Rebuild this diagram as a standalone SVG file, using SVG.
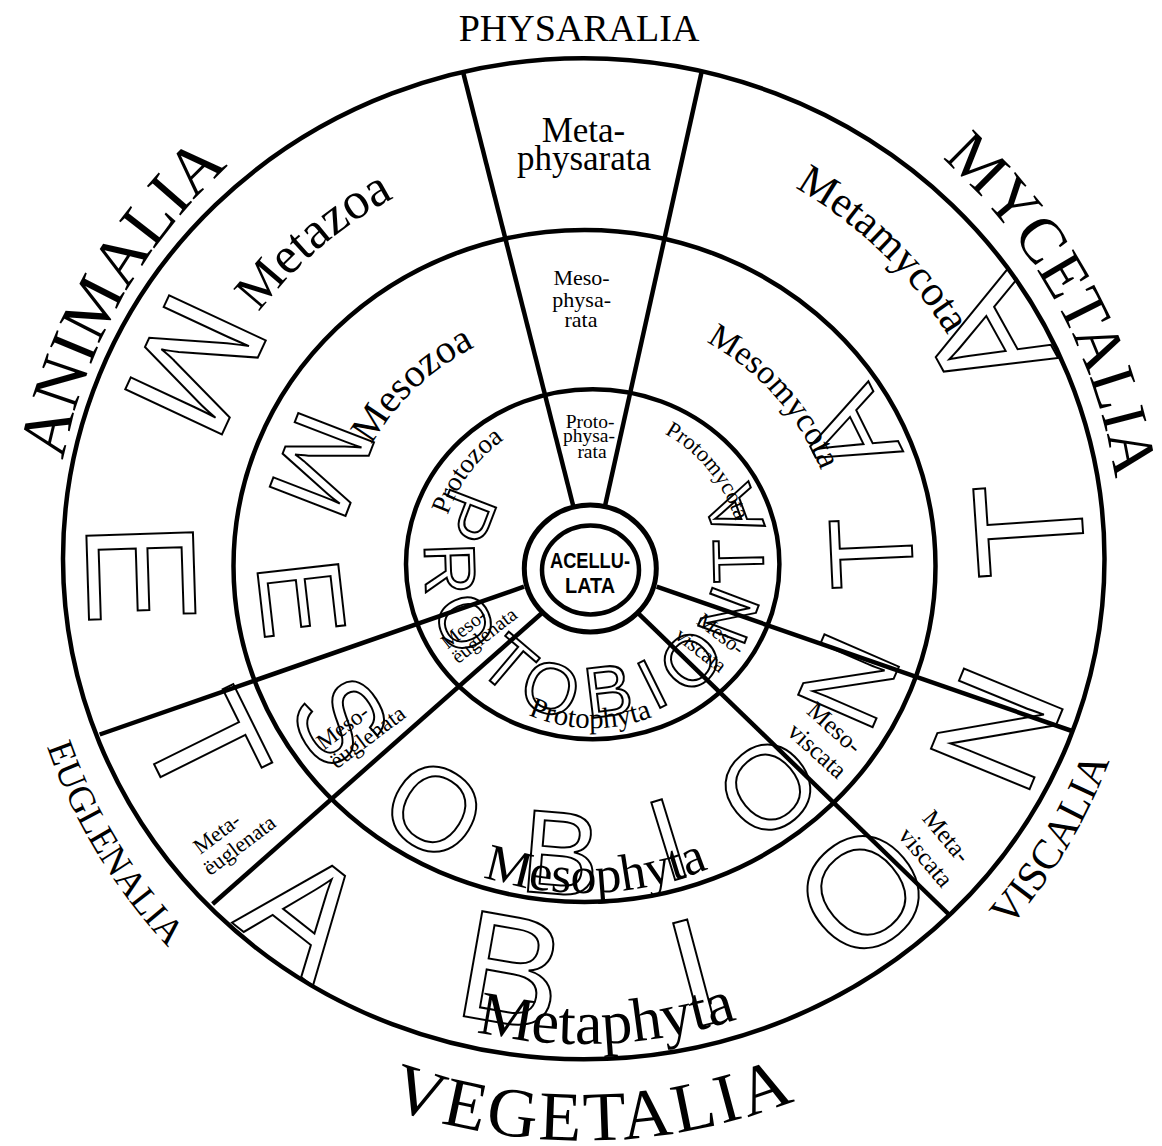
<svg xmlns="http://www.w3.org/2000/svg" width="1162" height="1146" viewBox="0 0 1162 1146">
<style>
.ring{fill:none;stroke:#000;stroke-width:4.5}
.div{stroke:#000;stroke-width:4.5;fill:none}
.serif{font-family:"Liberation Serif","Times New Roman",serif;fill:#000}
.mid{text-anchor:middle}
.ol{font-family:"Liberation Sans",Arial,Helvetica,sans-serif;fill:none;stroke:#000;stroke-width:2;text-anchor:middle}
.o1{font-size:155px}
.o2{font-size:118px}
.o3{font-size:72px}
.ctr{font-family:"Liberation Sans",Arial,Helvetica,sans-serif;font-weight:bold;font-size:21.5px;fill:#000;text-anchor:middle}
</style>
<defs>
<path id="pAnimalia" d="M 54.04 565.48 A 530 530 0 0 1 313.43 103.25"/>
<path id="pMycetalia" d="M 865.4 101.6 A 537 537 0 0 1 1120.8 574.0"/>
<path id="pViscalia" d="M 938.3 996.5 A 563 563 0 0 0 1136.7 666.4"/>
<path id="pVegetalia" d="M 301.9 1067.9 A 581 581 0 0 0 883.2 1057.0"/>
<path id="pEuglenalia" d="M 25.7 669.0 A 569 569 0 0 0 227.2 1002.2"/>
<path id="pMetazoa" d="M 213.3 388.5 A 408 408 0 0 1 476.3 165.4"/>
<path id="pMetamycota" d="M 723.0 155.3 A 427 427 0 0 1 982.6 406.0"/>
<path id="pMetaphyta" d="M 400.8 1008.1 A 485 485 0 0 0 810.2 988.0"/>
<path id="pMesophyta" d="M 431.5 855.0 A 327 327 0 0 0 758.3 843.0"/>
<path id="pProtophyta" d="M 496.5 697.0 A 164 164 0 0 0 684.6 700.0"/>
<path id="pMesozoa" d="M 356.6 476.2 A 245 245 0 0 1 506.8 333.7"/>
<path id="pMesomycota" d="M 672.6 326.7 A 255 255 0 0 1 832.1 505.2"/>
<path id="pProtozoa" d="M 440.7 546.6 A 153 153 0 0 1 531.9 423.8"/>
<path id="pProtomycota" d="M 641.0 423.2 A 149 149 0 0 1 740.6 545.8"/>
</defs>
<rect x="0" y="0" width="1162" height="1146" fill="#fff"/>

<g id="rings">
<ellipse class="ring" cx="583.75" cy="558.8" rx="520.75" ry="500.5"/>
<ellipse class="ring" cx="584.5" cy="566" rx="351" ry="336"/>
<ellipse class="ring" cx="592.7" cy="564.2" rx="186.7" ry="175"/>
</g>

<g id="connectors">
<line class="div" x1="573.5" y1="507" x2="463.3" y2="73"/>
<line class="div" x1="605" y1="506" x2="701.7" y2="71.5"/>
<line class="div" x1="656.7" y1="586.7" x2="1072" y2="731"/>
<line class="div" x1="638.3" y1="613.3" x2="949.5" y2="915"/>
<line class="div" x1="524" y1="586.7" x2="99.7" y2="734.5"/>
<line class="div" x1="541.7" y1="613.3" x2="212.6" y2="904"/>
</g>

<g id="metabionta" class="ol o1">
<g transform="translate(197.5,365.7) rotate(115)"><text y="55.5">M</text></g>
<g transform="translate(143,573) rotate(88.2)"><text y="55.5">E</text></g>
<g transform="translate(207,746) rotate(63.6)"><text y="55.5">T</text></g>
<g transform="translate(306.6,910.8) rotate(38.2)"><text y="55.5">A</text></g>
<g transform="translate(511.7,968.3) rotate(10)"><text y="55.5">B</text></g>
<g transform="translate(693.3,970.8) rotate(-14.9)"><text y="55.5">I</text></g>
<g transform="translate(862,890.4) rotate(-40)"><text y="55.5">O</text></g>
<g transform="translate(994.8,728) rotate(-67.6)"><text y="55.5">N</text></g>
<g transform="translate(1027.3,529.5) rotate(-93.8)"><text y="55.5">T</text></g>
<g transform="translate(984.6,340) rotate(-119)"><text y="55.5">A</text></g>
</g>

<g id="mesobionta" class="ol o2">
<g transform="translate(323.5,465) rotate(111.1)"><text y="42.2">M</text></g>
<g transform="translate(303,598) rotate(83.5)"><text y="42.2">E</text></g>
<g transform="translate(342,720) rotate(57.6)"><text y="42.2">S</text></g>
<g transform="translate(435,808) rotate(31.7)"><text y="42.2">O</text></g>
<g transform="translate(561,852) rotate(4.7)"><text y="42.2">B</text></g>
<g transform="translate(668,838) rotate(-17.1)"><text y="42.2">I</text></g>
<g transform="translate(767,786) rotate(-39.7)"><text y="42.2">O</text></g>
<g transform="translate(847,680) rotate(-66.5)"><text y="42.2">N</text></g>
<g transform="translate(870,553) rotate(-92.6)"><text y="42.2">T</text></g>
<g transform="translate(848,435) rotate(-116.4)"><text y="42.2">A</text></g>
</g>

<g id="protobionta" class="ol o3">
<g transform="translate(467.5,516) rotate(111.1)"><text y="25.8">P</text></g>
<g transform="translate(451,569) rotate(88.1)"><text y="25.8">R</text></g>
<g transform="translate(466,622.5) rotate(65.3)"><text y="25.8">O</text></g>
<g transform="translate(509,663) rotate(40.3)"><text y="25.8">T</text></g>
<g transform="translate(551,687.5) rotate(18.7)"><text y="25.8">O</text></g>
<g transform="translate(608,690) rotate(-6.9)"><text y="25.8">B</text></g>
<g transform="translate(651.7,683.3) rotate(-26.4)"><text y="25.8">I</text></g>
<g transform="translate(690,660) rotate(-45.4)"><text y="25.8">O</text></g>
<g transform="translate(727.5,615) rotate(-69.4)"><text y="25.8">N</text></g>
<g transform="translate(737.5,561) rotate(-91.3)"><text y="25.8">T</text></g>
<g transform="translate(732.5,512.5) rotate(-110.3)"><text y="25.8">A</text></g>
</g>

<g id="kingdoms" class="serif">
<text x="579" y="41" font-size="38" text-anchor="middle">PHYSARALIA</text>
<text font-size="68"><textPath href="#pAnimalia" startOffset="50%" text-anchor="middle">ANIMALIA</textPath></text>
<text font-size="64"><textPath href="#pMycetalia" startOffset="50%" text-anchor="middle">MYCETALIA</textPath></text>
<text font-size="42"><textPath href="#pViscalia" startOffset="50%" text-anchor="middle">VISCALIA</textPath></text>
<text font-size="70" letter-spacing="3"><textPath href="#pVegetalia" startOffset="50%" text-anchor="middle">VEGETALIA</textPath></text>
<text font-size="37"><textPath href="#pEuglenalia" startOffset="50%" text-anchor="middle">EUGLENALIA</textPath></text>
</g>

<g id="physaralia-sector" class="serif mid">
<text x="583.5" y="142" font-size="35">Meta-</text>
<text x="584" y="170" font-size="35">physarata</text>
<text x="581.5" y="285" font-size="22">Meso-</text>
<text x="581.7" y="306.5" font-size="22">physa-</text>
<text x="581" y="327" font-size="22">rata</text>
<text x="590" y="428" font-size="19.5">Proto-</text>
<text x="589" y="442" font-size="19.5">physa-</text>
<text x="592" y="457.5" font-size="19.5">rata</text>
</g>

<g id="animalia-sector" class="serif">
<text font-size="52"><textPath href="#pMetazoa" startOffset="50%" text-anchor="middle">Metazoa</textPath></text>
<text font-size="40"><textPath href="#pMesozoa" startOffset="50%" text-anchor="middle">Mesozoa</textPath></text>
<text font-size="27"><textPath href="#pProtozoa" startOffset="50%" text-anchor="middle">Protozoa</textPath></text>
</g>

<g id="mycetalia-sector" class="serif">
<text font-size="43"><textPath href="#pMetamycota" startOffset="50%" text-anchor="middle">Metamycota</textPath></text>
<text font-size="34"><textPath href="#pMesomycota" startOffset="50%" text-anchor="middle">Mesomycota</textPath></text>
<text font-size="22.5"><textPath href="#pProtomycota" startOffset="50%" text-anchor="middle">Protomycota</textPath></text>
</g>

<g id="vegetalia-sector" class="serif">
<text font-size="62"><textPath href="#pMetaphyta" startOffset="50%" text-anchor="middle">Metaphyta</textPath></text>
<text font-size="52"><textPath href="#pMesophyta" startOffset="50%" text-anchor="middle">Mesophyta</textPath></text>
<text font-size="29"><textPath href="#pProtophyta" startOffset="50%" text-anchor="middle">Protophyta</textPath></text>
</g>

<g id="euglenalia-sector" class="serif mid">
<g transform="translate(217,833.5) rotate(-37)"><text y="7" font-size="22">Meta-</text></g>
<g transform="translate(240.7,847) rotate(-37)"><text y="5" font-size="22">ëuglenata</text></g>
<g transform="translate(343,727.5) rotate(-37)"><text y="7" font-size="23">Meso-</text></g>
<g transform="translate(369,739) rotate(-37)"><text y="5" font-size="23">ëuglenata</text></g>
<g transform="translate(464,629) rotate(-38)"><text y="6" font-size="20">Meso-</text></g>
<g transform="translate(485.5,637) rotate(-38)"><text y="4.5" font-size="20">ëuglenata</text></g>
</g>

<g id="viscalia-sector" class="serif mid">
<g transform="translate(946.5,836.5) rotate(50)"><text y="8" font-size="25">Meta-</text></g>
<g transform="translate(926,857) rotate(50)"><text y="8.5" font-size="25">viscata</text></g>
<g transform="translate(834.5,728) rotate(42)"><text y="8" font-size="25">Meso-</text></g>
<g transform="translate(817.5,750.5) rotate(42)"><text y="8.5" font-size="25">viscata</text></g>
<g transform="translate(721,634) rotate(38)"><text y="7" font-size="21">Meso-</text></g>
<g transform="translate(701,650) rotate(38)"><text y="7" font-size="21">viscata</text></g>
</g>

<g id="acellulata">
<ellipse cx="590.3" cy="568.5" rx="66" ry="63.5" fill="#fff" stroke="#000" stroke-width="5"/>
<ellipse cx="590.5" cy="570" rx="48.5" ry="44.5" fill="none" stroke="#000" stroke-width="4.5"/>
<text class="ctr" x="590" y="567.5" textLength="80" lengthAdjust="spacingAndGlyphs">ACELLU-</text>
<text class="ctr" x="590" y="593" textLength="50" lengthAdjust="spacingAndGlyphs">LATA</text>
</g>
</svg>
